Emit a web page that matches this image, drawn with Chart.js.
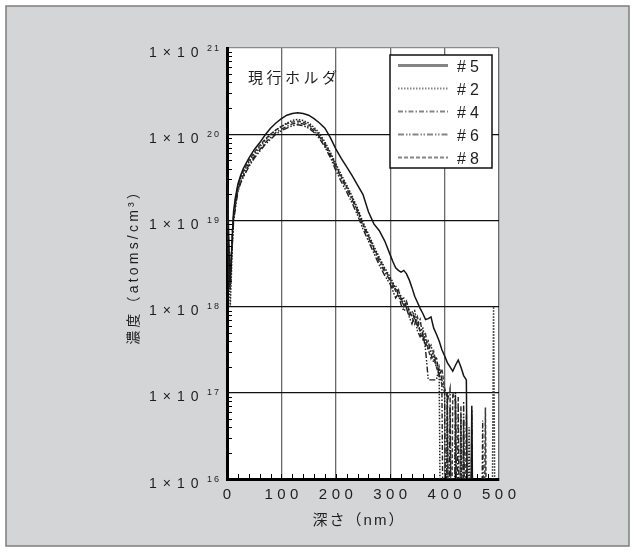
<!DOCTYPE html>
<html>
<head>
<meta charset="utf-8">
<script src="https://cdn.jsdelivr.net/npm/chart.js@4.4.1/dist/chart.umd.min.js"></script>
<style>
  html, body { margin: 0; padding: 0; background: #fff; overflow: hidden; }
  canvas { display: block; }
</style>
</head>
<body>
<canvas id="profile" width="635" height="552"></canvas>
<script>
// depth (nm)
const depth = [
  0, 2, 4, 6, 8, 10, 12, 15, 20, 25, 30,
  40, 50, 60, 70, 80, 90, 100, 110, 120, 130, 140, 150, 160, 170, 180, 190, 200,
  210, 220, 230, 240, 250, 260, 270, 280, 290, 300,
  305, 310, 315, 320, 325, 330, 335, 340, 345, 350, 355, 360, 365, 370, 375, 380, 385, 390, 395, 400,
  405, 410, 415, 420, 425, 430, 435, 440, 445, 450, 455, 460, 465, 470, 475, 480, 485, 490, 495, 500
];

// concentrations, stored as log10(atoms/cm3); 13 = below the axis floor
const log5 = [
  19.5, 19.1, 18.6, 18.3, 18.55, 18.85, 19.1, 19.25, 19.42, 19.52, 19.6,
  19.72, 19.82, 19.9, 19.99, 20.07, 20.13, 20.18, 20.22, 20.24, 20.25, 20.24, 20.22, 20.18, 20.13, 20.07, 19.96, 19.83,
  19.72, 19.62, 19.52, 19.41, 19.3, 19.1, 18.96, 18.88, 18.76, 18.6,
  18.52, 18.45, 18.42, 18.4, 18.42, 18.38, 18.31, 18.22, 18.12, 18.05, 17.98, 17.92, 17.85, 17.86, 17.88, 17.75, 17.68, 17.6, 17.5, 17.43,
  17.35, 17.3, 17.25, 17.32, 17.38, 17.3, 17.2, 17.15, 13, 16.85, 13, 13, 13, 13, 13, 13, 13, 13, 13, 13
];
const log2 = [
  19.3, 18.8, 18.3, 18.0, 18.35, 18.75, 19.0, 19.18, 19.37, 19.48, 19.55,
  19.67, 19.77, 19.85, 19.93, 19.99, 20.05, 20.09, 20.13, 20.16, 20.17, 20.16, 20.13, 20.08, 20.01, 19.91, 19.79, 19.66,
  19.53, 19.41, 19.28, 19.14, 18.98, 18.84, 18.7, 18.57, 18.45, 18.34,
  18.28, 18.2, 18.18, 18.12, 18.02, 18.05, 17.95, 17.9, 17.95, 17.8, 17.72, 17.75, 17.6, 17.5, 17.55, 17.4, 17.3, 17.25, 13, 13,
  17.0, 13, 13, 16.9, 13, 16.75, 13, 13, 16.6, 13, 13, 13, 13, 13, 13, 13, 13, 18.0, 13, 13
];
const log4 = [
  19.45, 18.9, 18.4, 18.2, 18.5, 18.8, 19.02, 19.16, 19.35, 19.45, 19.52,
  19.64, 19.74, 19.82, 19.9, 19.96, 20.02, 20.06, 20.09, 20.12, 20.13, 20.12, 20.09, 20.04, 19.97, 19.87, 19.75, 19.62,
  19.49, 19.37, 19.24, 19.1, 18.94, 18.8, 18.66, 18.52, 18.4, 18.3,
  18.22, 18.25, 18.12, 18.08, 18.1, 17.98, 17.9, 17.95, 17.85, 17.78, 17.85, 17.65, 17.55, 17.6, 17.45, 17.35, 17.42, 17.2, 17.1, 13,
  16.9, 17.05, 13, 13, 16.95, 13, 16.7, 13, 13, 13, 13, 13, 13, 16.68, 13, 13, 13, 13, 13, 13
];
const log6 = [
  19.35, 18.7, 18.2, 18.3, 18.6, 18.75, 18.97, 19.12, 19.33, 19.43, 19.5,
  19.62, 19.72, 19.8, 19.88, 19.94, 20.0, 20.04, 20.07, 20.1, 20.11, 20.1, 20.07, 20.02, 19.95, 19.85, 19.73, 19.58,
  19.45, 19.33, 19.2, 19.06, 18.9, 18.76, 18.62, 18.48, 18.36, 18.26,
  18.18, 18.1, 18.15, 18.02, 17.95, 17.98, 17.88, 17.8, 17.9, 17.72, 17.65, 17.7, 17.5, 17.15, 17.15, 17.15, 17.15, 17.3, 17.15, 17.0,
  13, 16.85, 13, 17.0, 13, 13, 16.9, 13, 13, 16.8, 13, 13, 13, 13, 13, 13, 13, 13, 13, 13
];
const log8 = [
  19.5, 19.0, 18.45, 18.35, 18.6, 18.88, 19.06, 19.2, 19.4, 19.5, 19.57,
  19.69, 19.79, 19.87, 19.94, 20.0, 20.05, 20.09, 20.12, 20.14, 20.15, 20.14, 20.11, 20.06, 19.99, 19.89, 19.77, 19.64,
  19.51, 19.39, 19.26, 19.12, 18.96, 18.82, 18.68, 18.55, 18.43, 18.32,
  18.26, 18.18, 18.2, 18.08, 18.0, 18.06, 17.94, 17.88, 17.8, 17.88, 17.7, 17.62, 17.68, 17.5, 17.4, 17.48, 17.3, 17.2, 17.28, 17.05,
  16.95, 13, 17.0, 16.9, 13, 16.85, 13, 16.75, 13, 13, 13, 13, 13, 13, 16.83, 13, 13, 13, 13, 13
];

const seriesNames = ['＃5', '＃2', '＃4', '＃6', '＃8'];
const seriesLogs = [log5, log2, log4, log6, log8];
const decades = [16, 17, 18, 19, 20, 21];
const depthTicks = [0, 100, 200, 300, 400, 500];

const LATIN = '"Liberation Sans", Arial, "Noto Sans CJK JP"';
const CJK = '"Liberation Sans", "Noto Sans CJK JP"';

const lineStyles = [
  { color: '#151515', width: 1.5, dash: [], legendWidth: 3 },
  { color: '#222222', width: 1.5, dash: [1.5, 1.5], legendWidth: 2 },
  { color: '#222222', width: 1.4, dash: [5, 2, 1.5, 2], legendWidth: 2 },
  { color: '#1e1e1e', width: 1.4, dash: [6, 2, 1.5, 1.5, 1.5, 2], legendWidth: 2 },
  { color: '#3a3a3a', width: 1.5, dash: [4, 2], legendWidth: 2 }
];

/**
 * Draw text char by char with extra tracking
 */
function spaced(ctx, text, x, y, spacing, align) {
  const chars = [...text];
  const widths = chars.map(c => ctx.measureText(c).width);
  const total = widths.reduce((a, b) => a + b, 0) + spacing * (chars.length - 1);
  let cx = x;
  if (align === 'center') cx = x - total / 2;
  else if (align === 'right') cx = x - total;
  chars.forEach((c, i) => {
    ctx.fillText(c, cx, y);
    cx += widths[i] + spacing;
  });
}

const isDecade = v => Math.abs(Math.log10(v) - Math.round(Math.log10(v))) < 1e-6;

const panelPlugin = {
  id: 'panel',
  beforeDraw(chart) {
    const { ctx, chartArea: a } = chart;
    ctx.save();
    ctx.fillStyle = '#ffffff';
    ctx.fillRect(0, 0, chart.width, chart.height);
    ctx.fillStyle = '#d4d5d7';
    ctx.fillRect(6, 6, 623, 540);
    ctx.strokeStyle = '#7d7d7d';
    ctx.lineWidth = 1.5;
    ctx.strokeRect(6, 6, 623, 540);
    ctx.fillStyle = '#ffffff';
    ctx.fillRect(a.left, a.top, a.right - a.left, a.bottom - a.top);
    ctx.restore();
  }
};

const decorPlugin = {
  id: 'decor',
  afterDatasetsDraw(chart) {
    const { ctx, chartArea: a } = chart;
    const xs = chart.scales.x;
    const ys = chart.scales.y;
    ctx.save();

    // minor ticks, inside the frame
    ctx.strokeStyle = '#000';
    ctx.lineWidth = 1;
    ctx.beginPath();
    for (let e = 16; e < 21; e++) {
      for (let m = 2; m <= 9; m++) {
        const y = Math.round(ys.getPixelForValue(m * Math.pow(10, e))) + 0.5;
        ctx.moveTo(a.left, y);
        ctx.lineTo(a.left + 5, y);
      }
    }
    for (let d = 20; d < 500; d += 20) {
      const x = Math.round(xs.getPixelForValue(d)) + 0.5;
      ctx.moveTo(x, a.bottom);
      ctx.lineTo(x, a.bottom - 5);
    }
    ctx.stroke();

    // y tick labels 1×10^n
    ctx.fillStyle = '#1e1e1e';
    ctx.textBaseline = 'alphabetic';
    decades.forEach(e => {
      const y = ys.getPixelForValue(Math.pow(10, e));
      ctx.font = `14px ${LATIN}`;
      spaced(ctx, '1×10', 149, y + 8.5, 6, 'left');
      ctx.font = `9px ${LATIN}`;
      spaced(ctx, String(e), 207, y + 2.5, 2, 'left');
    });

    // x tick labels
    ctx.font = `15px ${LATIN}`;
    depthTicks.forEach(v => {
      spaced(ctx, String(v), xs.getPixelForValue(v), 498.5, 4.5, 'center');
    });

    // axis titles
    ctx.font = `15px ${CJK}`;
    spaced(ctx, '深さ（nm）', 358, 525, 2, 'center');
    ctx.save();
    ctx.translate(138, 265);
    ctx.rotate(-Math.PI / 2);
    ctx.font = `14px ${CJK}`;
    spaced(ctx, '濃度（atoms/cm³）', 0, 0, 3.2, 'center');
    ctx.restore();

    // annotation
    ctx.font = `15px ${CJK}`;
    spaced(ctx, '現行ホルダ', 248, 83, 3.5, 'left');

    // legend box
    const box = { x: 390, y: 55, w: 102, h: 113 };
    ctx.fillStyle = '#ffffff';
    ctx.fillRect(box.x, box.y, box.w, box.h);
    ctx.strokeStyle = '#111';
    ctx.lineWidth = 1.5;
    ctx.strokeRect(box.x, box.y, box.w, box.h);
    seriesNames.forEach((name, i) => {
      const y = 65.5 + i * 23;
      const st = lineStyles[i];
      ctx.strokeStyle = '#858585';
      ctx.lineWidth = st.legendWidth;
      ctx.setLineDash(st.dash);
      ctx.beginPath();
      ctx.moveTo(398, y);
      ctx.lineTo(448, y);
      ctx.stroke();
      ctx.setLineDash([]);
      ctx.fillStyle = '#1e1e1e';
      ctx.font = `16px ${LATIN}`;
      spaced(ctx, '#', 457, y + 6, 0, 'left');
      spaced(ctx, name.slice(1), 470, y + 6, 0, 'left');
    });

    ctx.restore();
  }
};

const datasets = seriesLogs.map((logs, i) => ({
  label: seriesNames[i],
  data: depth.map((d, j) => ({ x: d, y: Math.pow(10, logs[j]) })),
  borderColor: lineStyles[i].color,
  borderWidth: lineStyles[i].width,
  borderDash: lineStyles[i].dash,
  pointRadius: 0,
  tension: 0,
  fill: false
}));

new Chart(document.getElementById('profile'), {
  type: 'line',
  data: { datasets },
  options: {
    responsive: false,
    animation: false,
    devicePixelRatio: 1,
    parsing: false,
    layout: { padding: { left: 227, right: 136, top: 48, bottom: 73 } },
    plugins: {
      legend: { display: false },
      tooltip: { enabled: false }
    },
    scales: {
      x: {
        type: 'linear',
        min: 0,
        max: 500,
        ticks: { display: false, stepSize: 100 },
        grid: {
          drawTicks: false,
          lineWidth: 1.3,
          color: c => (c.tick && c.tick.value === 0 ? 'rgba(0,0,0,0)' : '#6a6a6a')
        },
        border: { display: true, color: '#000', width: 3 },
        afterFit: s => { s.height = 0; }
      },
      y: {
        type: 'logarithmic',
        min: 1e16,
        max: 1e21,
        ticks: { display: false },
        grid: {
          drawTicks: false,
          lineWidth: 1.2,
          color: c => {
            const v = c.tick && c.tick.value;
            if (!v || !isDecade(v) || v <= 1e16) return 'rgba(0,0,0,0)';
            if (v >= 1e21) return '#8a8a8a';
            return '#111';
          }
        },
        border: { display: true, color: '#000', width: 3 },
        afterFit: s => { s.width = 0; }
      }
    }
  },
  plugins: [panelPlugin, decorPlugin]
});
</script>
</body>
</html>
